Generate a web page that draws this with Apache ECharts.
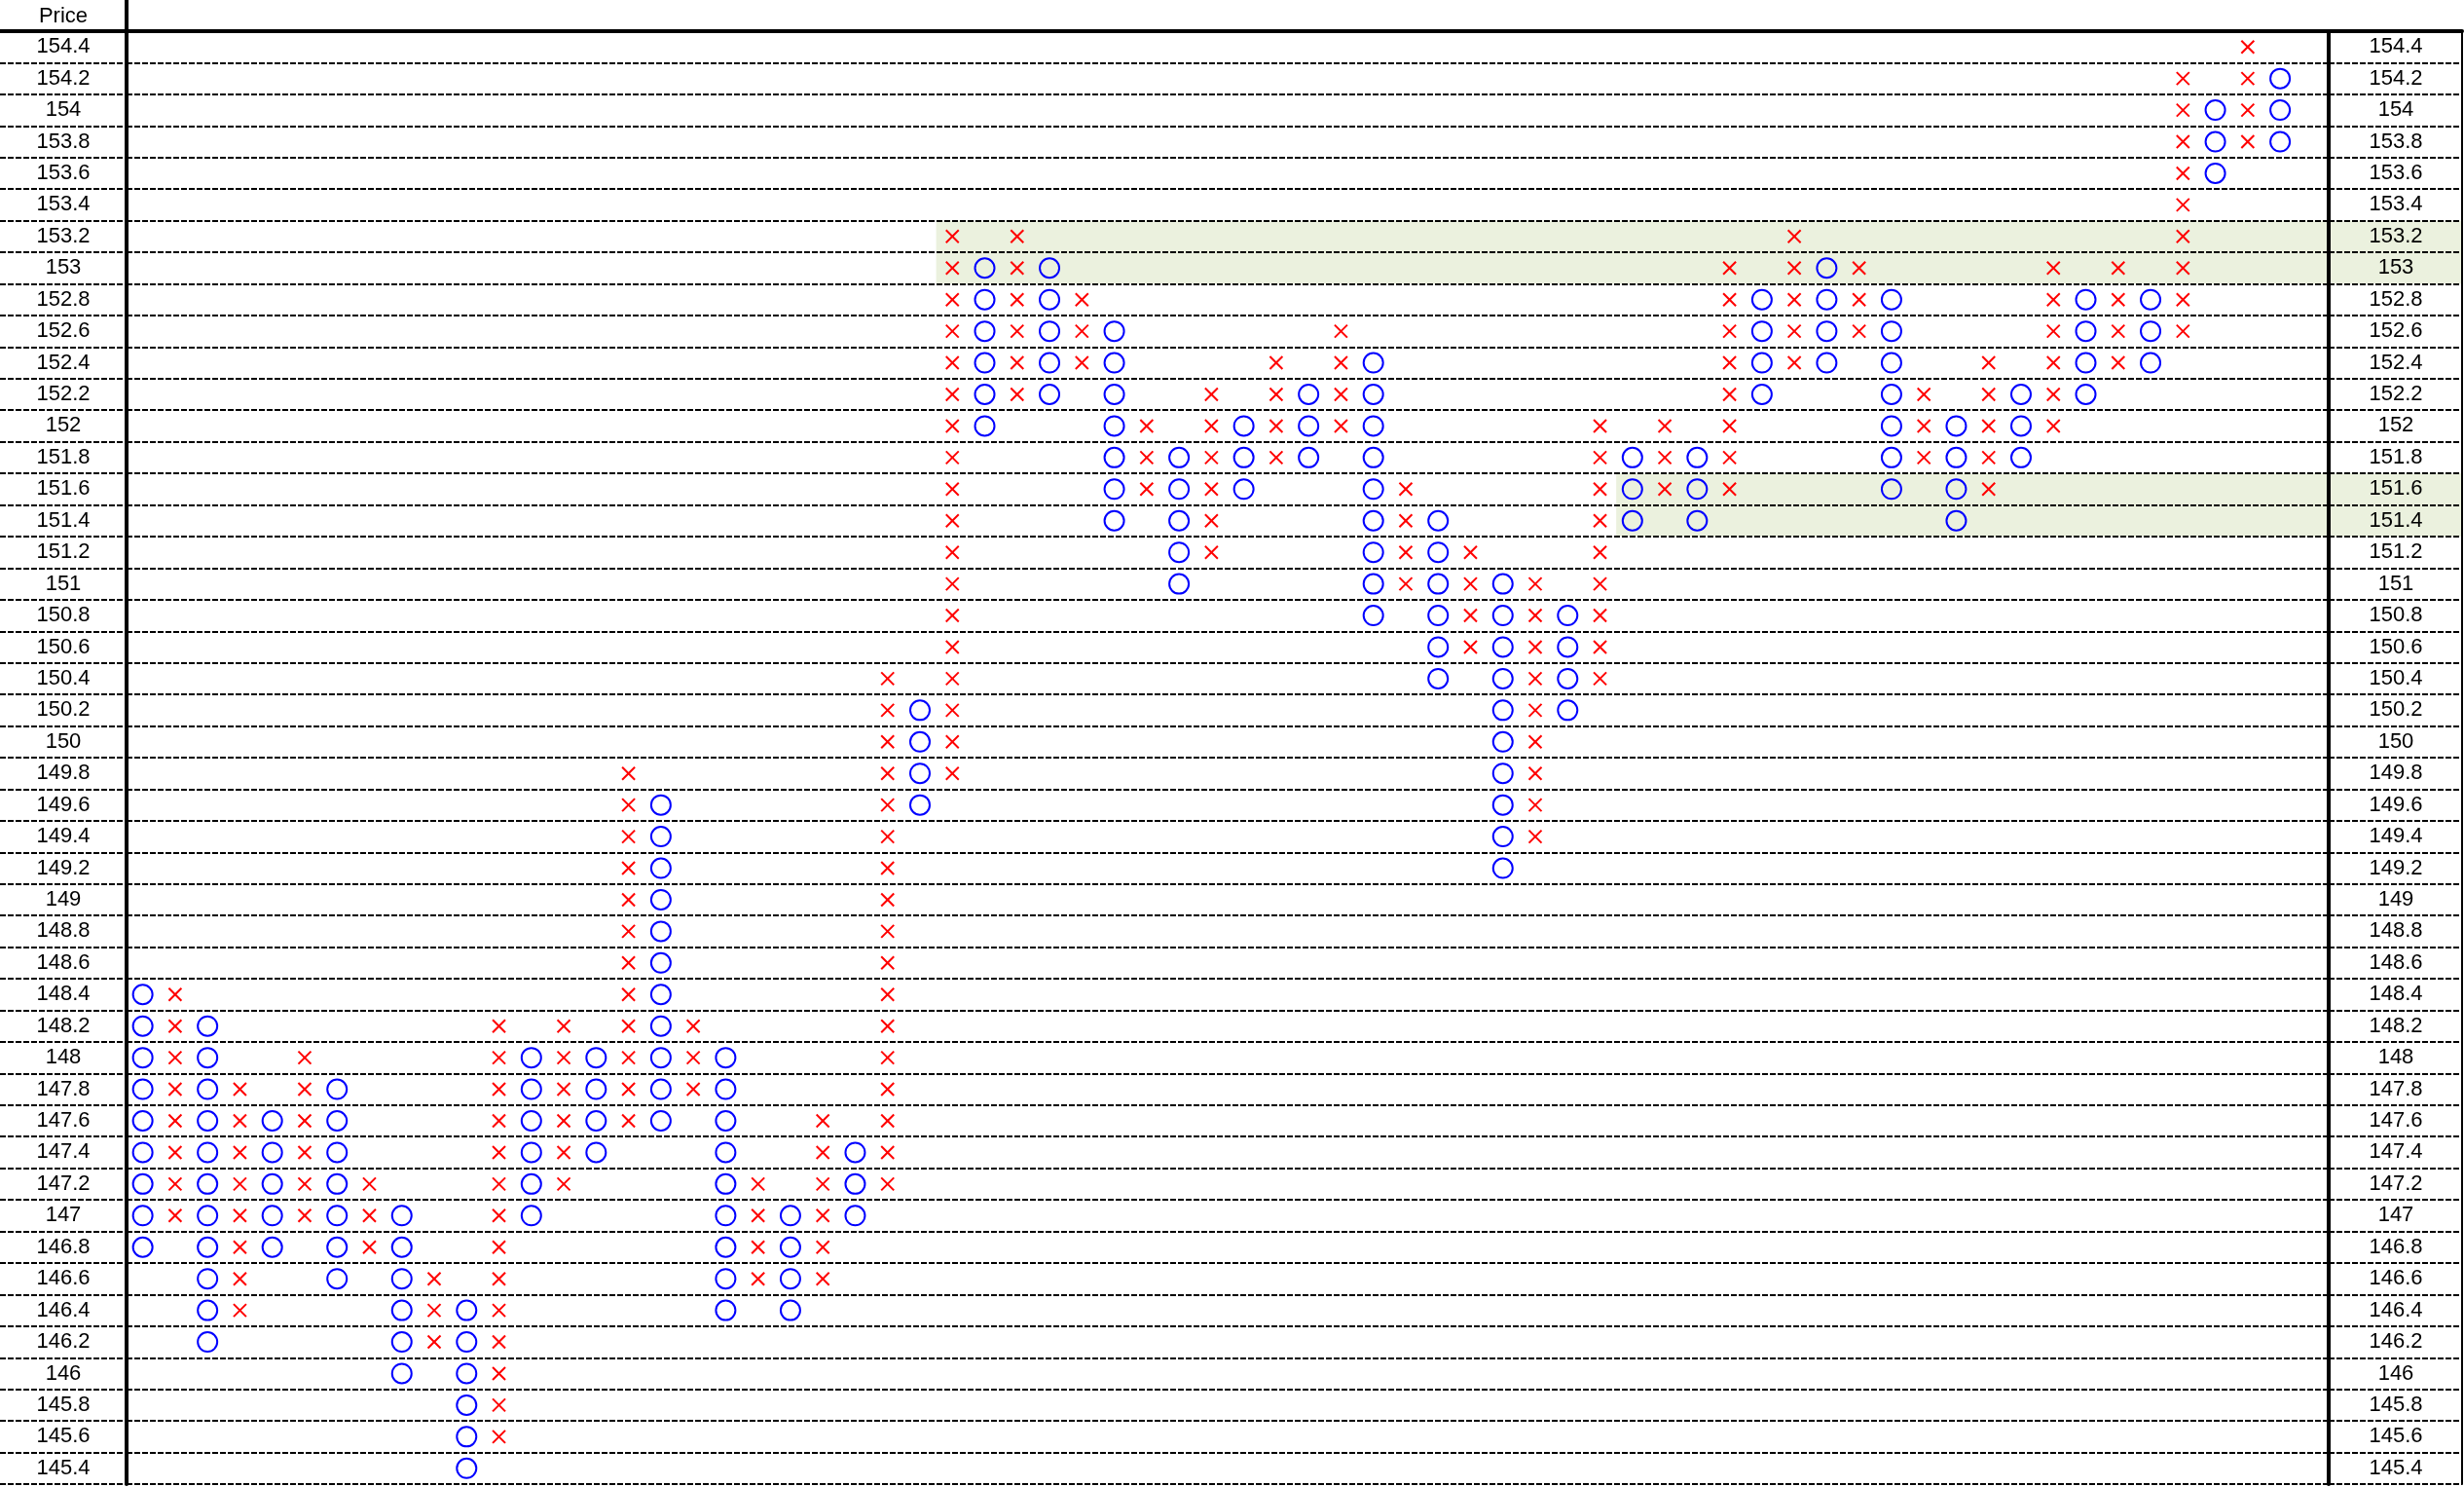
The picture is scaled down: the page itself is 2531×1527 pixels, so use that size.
<!DOCTYPE html>
<html>
<head>
<meta charset="utf-8">
<script src="https://cdn.jsdelivr.net/npm/echarts@6/dist/echarts.min.js"></script>
<style>
html,body{margin:0;padding:0;background:#fff;}
#chart{width:2531px;height:1527px;}
</style>
</head>
<body>
<div id="chart"></div>
<script>
// Price rows (tick labels), bottom to top
const prices = ['145.4','145.6','145.8','146','146.2','146.4','146.6','146.8','147','147.2',
  '147.4','147.6','147.8','148','148.2','148.4','148.6','148.8','149','149.2',
  '149.4','149.6','149.8','150','150.2','150.4','150.6','150.8','151','151.2',
  '151.4','151.6','151.8','152','152.2','152.4','152.6','152.8','153','153.2',
  '153.4','153.6','153.8','154','154.2','154.4'];

// Point & figure columns: type, lowest box, highest box
const columnType = ['O','X','O','X','O','X','O','X','O','X','O','X','O','X','O','X','O','X','O','X',
  'O','X','O','X','O','X','O','X','O','X','O','X','O','X','O','X','O','X','O','X',
  'O','X','O','X','O','X','O','X','O','X','O','X','O','X','O','X','O','X','O','X',
  'O','X','O','X','O','X','O'];
const columnLow = ['146.8','147','146.2','146.4','146.8','147','146.6','146.8','146','146.2',
  '145.4','145.6','147','147.2','147.4','147.6','147.6','147.8','146.4','146.6',
  '146.4','146.6','147','147.2','149.6','149.8','152','152.2','152.2','152.4',
  '151.4','151.6','151','151.2','151.6','151.8','151.8','152','150.8','151',
  '150.4','150.6','149.2','149.4','150.2','150.4','151.4','151.6','151.4','151.6',
  '152.2','152.4','152.4','152.6','151.6','151.8','151.4','151.6','151.8','152',
  '152.2','152.4','152.4','152.6','153.6','153.8','153.8'];
const columnHigh = ['148.4','148.4','148.2','147.8','147.6','148','147.8','147.2','147','146.6',
  '146.4','148.2','148','148.2','148','149.8','149.6','148.2','148','147.2',
  '147','147.6','147.4','150.4','150.2','153.2','153','153.2','153','152.8',
  '152.6','152','151.8','152.2','152','152.4','152.2','152.6','152.4','151.6',
  '151.4','151.2','151','151','150.8','152','151.8','152','151.8','153',
  '152.8','153.2','153','153','152.8','152.2','152','152.4','152.2','153',
  '152.8','153','152.8','154.2','154','154.4','154.2'];
const totalColumns = 68;

// Highlighted price zones: start column, low price, high price
const zoneStartColumn = [25, 46];
const zoneLow = ['153', '151.4'];
const zoneHigh = ['153.2', '151.6'];

const FONT = "'Liberation Sans', Arial, sans-serif";
const columnCats = [];
for (let i = 0; i < totalColumns; i++) columnCats.push(String(i + 1));
const idx = p => prices.indexOf(p);

const colData = columnType.map((t, i) => [i, idx(columnLow[i]), idx(columnHigh[i]), t === 'X' ? 1 : 0]);
const zoneData = zoneStartColumn.map((c, i) => [c, idx(zoneLow[i]), idx(zoneHigh[i])]);
const zoneDataRight = zoneStartColumn.map((c, i) => [0, idx(zoneLow[i]), idx(zoneHigh[i])]);

const dash = {color: '#000', width: 2, type: [6, 2]};
const thick = {color: '#000', width: 4};
const GT = 32, GH = 1492;

const chart = echarts.init(document.getElementById('chart'), null, {renderer: 'canvas'});
chart.setOption({
  animation: false,
  backgroundColor: '#fff',
  grid: [
    {left: 0, top: GT, width: 130, height: GH},
    {left: 130, top: GT, width: 2262, height: GH},
    {left: 2392, top: GT, width: 137, height: GH}
  ],
  xAxis: [
    {gridIndex: 0, type: 'value', min: 0, max: 1, position: 'top', axisLine: {show: true, onZero: false, lineStyle: thick}, axisTick: {show: false}, axisLabel: {show: false}, splitLine: {show: false}},
    {gridIndex: 1, type: 'category', data: columnCats, boundaryGap: true, position: 'top', axisLine: {show: true, onZero: false, lineStyle: thick}, axisTick: {show: false}, axisLabel: {show: false}, splitLine: {show: false}},
    {gridIndex: 2, type: 'value', min: 0, max: 1, position: 'top', axisLine: {show: true, onZero: false, lineStyle: thick}, axisTick: {show: false}, axisLabel: {show: false}, splitLine: {show: false}}
  ],
  yAxis: [
    {gridIndex: 0, type: 'category', data: prices, boundaryGap: true, position: 'left',
      axisLine: {show: false}, axisTick: {show: false},
      axisLabel: {show: true, inside: true, interval: 0, margin: 65, align: 'center', verticalAlign: 'middle', padding: [3, 0, 0, 0], fontSize: 22, fontFamily: FONT, color: '#000'},
      splitLine: {show: true, interval: 0, lineStyle: dash}},
    {gridIndex: 1, type: 'category', data: prices, boundaryGap: true, position: 'left',
      axisLine: {show: true, onZero: false, lineStyle: thick}, axisTick: {show: false}, axisLabel: {show: false},
      splitLine: {show: true, interval: 0, lineStyle: dash}},
    {gridIndex: 1, type: 'category', data: prices, boundaryGap: true, position: 'right',
      axisLine: {show: true, onZero: false, lineStyle: thick}, axisTick: {show: false}, axisLabel: {show: false},
      splitLine: {show: false}},
    {gridIndex: 2, type: 'category', data: prices, boundaryGap: true, position: 'right',
      axisLine: {show: true, onZero: false, lineStyle: {color: '#000', width: 2}}, axisTick: {show: false},
      axisLabel: {show: true, inside: true, interval: 0, margin: 68, align: 'center', verticalAlign: 'middle', padding: [3, 0, 0, 0], fontSize: 22, fontFamily: FONT, color: '#000'},
      splitLine: {show: true, interval: 0, lineStyle: dash}}
  ],
  graphic: [
    {type: 'line', shape: {x1: 130, y1: 0, x2: 130, y2: GT}, style: {stroke: '#000', lineWidth: 4}, z: 10},
    {type: 'text', x: 65, y: 17, style: {text: 'Price', align: 'center', verticalAlign: 'middle', fontSize: 22, fontFamily: FONT, fill: '#000'}, z: 10}
  ],
  series: [
    {
      type: 'custom', name: 'zones', xAxisIndex: 1, yAxisIndex: 1, z: -1, silent: true,
      data: zoneData, encode: {x: 0, y: [1, 2]},
      renderItem: function (params, api) {
        const c = api.value(0), lo = api.value(1), hi = api.value(2);
        const s = api.size([1, 1]);
        const pHi = api.coord([c, hi]);
        const pLo = api.coord([c, lo]);
        const x0 = pHi[0] - s[0] / 2;
        const y0 = pHi[1] - s[1] / 2;
        const y1 = pLo[1] + s[1] / 2;
        const x1 = params.coordSys.x + params.coordSys.width;
        return {type: 'rect', shape: {x: x0, y: y0, width: x1 - x0, height: y1 - y0}, style: {fill: '#EBF1DE'}};
      }
    },
    {
      type: 'custom', name: 'zonesRight', xAxisIndex: 2, yAxisIndex: 3, z: -1, silent: true,
      data: zoneDataRight, encode: {x: 0, y: [1, 2]},
      renderItem: function (params, api) {
        const lo = api.value(1), hi = api.value(2);
        const s = api.size([0, 1]);
        const pHi = api.coord([0, hi]);
        const pLo = api.coord([0, lo]);
        const y0 = pHi[1] - s[1] / 2;
        const y1 = pLo[1] + s[1] / 2;
        return {type: 'rect', shape: {x: params.coordSys.x, y: y0, width: params.coordSys.width, height: y1 - y0}, style: {fill: '#EBF1DE'}};
      }
    },
    {
      type: 'custom', name: 'P&F', xAxisIndex: 1, yAxisIndex: 1, z: 5,
      data: colData, encode: {x: 0, y: [1, 2]},
      renderItem: function (params, api) {
        const c = api.value(0), lo = api.value(1), hi = api.value(2), isX = api.value(3) === 1;
        const children = [];
        for (let k = lo; k <= hi; k++) {
          const p = api.coord([c, k]);
          if (isX) {
            const h = 6.5;
            children.push({type: 'line', shape: {x1: p[0] - h, y1: p[1] - h, x2: p[0] + h, y2: p[1] + h}, style: {stroke: '#FF0000', lineWidth: 2}});
            children.push({type: 'line', shape: {x1: p[0] + h, y1: p[1] - h, x2: p[0] - h, y2: p[1] + h}, style: {stroke: '#FF0000', lineWidth: 2}});
          } else {
            children.push({type: 'circle', shape: {cx: p[0], cy: p[1], r: 10}, style: {fill: 'none', stroke: '#0000FF', lineWidth: 2}});
          }
        }
        return {type: 'group', children: children};
      }
    }
  ]
});
</script>
</body>
</html>
